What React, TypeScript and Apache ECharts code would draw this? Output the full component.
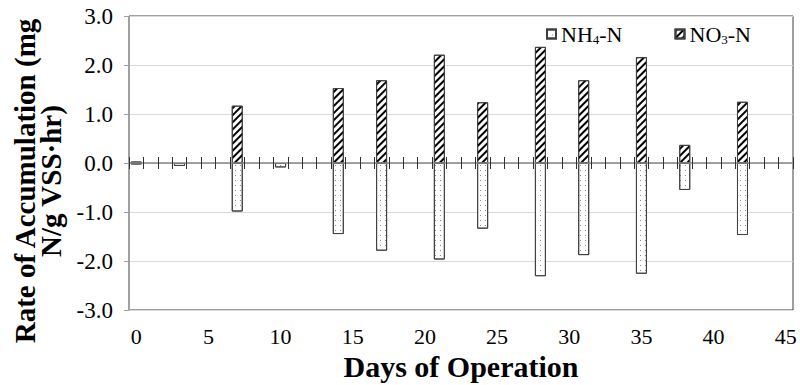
import React, { useEffect, useRef } from "react";
import * as echarts from "echarts";

const days = [0, 3, 7, 10, 14, 17, 21, 24, 28, 31, 35, 38, 42];
const nh4 = [-0.03, -0.06, -0.99, -0.09, -1.45, -1.79, -1.97, -1.34, -2.31, -1.88, -2.26, -0.55, -1.47];
const no3 = [0.03, null, 1.17, null, 1.53, 1.69, 2.21, 1.24, 2.37, 1.69, 2.16, 0.37, 1.25];
const categories = Array.from({ length: 46 }, (_, i) => String(i));
const yTicks = [-3, -2, -1, 0, 1, 2, 3];

const FONT = '"Liberation Serif", "Times New Roman", serif';

function toSeries(vals: (number | null)[]) {
  return categories.map((c) => {
    const idx = days.indexOf(Number(c));
    return idx >= 0 ? vals[idx] : null;
  });
}

export default function App() {
  const ref = useRef<HTMLDivElement>(null);
  useEffect(() => {
    if (!ref.current) return;
    const chart = echarts.init(ref.current, undefined, { renderer: "svg" });
    const common = {
      type: "bar" as const,
      barWidth: 11,
      barGap: "-100%",
      xAxisIndex: 0,
      yAxisIndex: 0,
    };
    const gridBase = { left: 129, right: 7, containLabel: false, outerBoundsMode: "none" };
    const tickAxis = (gridIndex: number, position: string, showLine: boolean) => ({
      type: "category",
      gridIndex,
      data: categories,
      position,
      axisLine: { onZero: false, show: showLine, lineStyle: { color: "#868686", width: 1.5 } },
      axisTick: { show: true, interval: 0, length: 6, lineStyle: { color: "#303030" } },
      axisLabel: { show: false },
      splitLine: { show: false },
      z: 3,
    });
    const hiddenY = (gridIndex: number) => ({
      type: "value",
      gridIndex,
      min: 0,
      max: 1,
      show: false,
      splitLine: { show: false },
    });
    chart.setOption({
      animation: false,
      backgroundColor: "#fff",
      textStyle: { fontFamily: FONT },
      grid: [
        {
          ...gridBase,
          top: 16,
          bottom: 75,
          show: true,
          borderColor: "#404040",
          borderWidth: 1,
          backgroundColor: "transparent",
        },
        { ...gridBase, top: 16, height: 147 },
        { ...gridBase, top: 163, height: 147 },
      ],
      legend: {
        left: 541,
        top: 18,
        itemWidth: 9,
        itemHeight: 9,
        itemGap: 52,
        icon: "rect",
        textStyle: {
          fontFamily: FONT,
          fontSize: 22,
          color: "#000",
          rich: {
            a: { fontFamily: FONT, fontSize: 22, color: "#000" },
            s: { fontFamily: FONT, fontSize: 13, color: "#000", verticalAlign: "bottom", padding: [10, 0, 0, 0] },
          },
        },
        formatter: (name: string) =>
          name === "NH4-N" ? "{a|NH}{s|4}{a|-N}" : "{a|NO}{s|3}{a|-N}",
        data: ["NH4-N", "NO3-N"],
      },
      xAxis: [
        {
          type: "category",
          gridIndex: 0,
          data: categories,
          position: "bottom",
          axisLine: { onZero: false, show: false },
          axisTick: { show: false },
          axisLabel: { interval: 4, margin: 15, fontSize: 22, color: "#000", fontFamily: FONT },
          splitLine: { show: false },
          name: "Days of Operation",
          nameLocation: "middle",
          nameGap: 37,
          nameTextStyle: { fontFamily: FONT, fontSize: 30, fontWeight: "bold", color: "#000" },
        },
        tickAxis(1, "bottom", true),
        tickAxis(2, "top", false),
      ],
      yAxis: [
        {
          type: "value",
          gridIndex: 0,
          min: yTicks[0],
          max: yTicks[yTicks.length - 1],
          interval: 1,
          axisLine: { show: true, lineStyle: { color: "#a0a0a0" } },
          axisTick: { show: true, length: 5, lineStyle: { color: "#a0a0a0" } },
          axisLabel: {
            formatter: (v: number) => v.toFixed(1),
            fontSize: 23,
            color: "#000",
            fontFamily: FONT,
            margin: 16,
          },
          splitLine: { show: true, lineStyle: { color: "#d9d9d9", width: 1 } },
          name: "Rate of Accumulation (mg\nN/g VSS·hr)",
          nameLocation: "middle",
          nameRotate: 90,
          nameGap: 58,
          nameTextStyle: {
            fontFamily: FONT,
            fontSize: 29,
            fontWeight: "bold",
            color: "#000",
            lineHeight: 26,
            padding: [0, 36, 0, 0],
          },
        },
        hiddenY(1),
        hiddenY(2),
      ],
      series: [
        {
          ...common,
          name: "NH4-N",
          data: toSeries(nh4),
          itemStyle: {
            color: "#fff",
            borderColor: "#404040",
            borderWidth: 1,
            decal: {
              symbol: "rect",
              symbolSize: 1,
              color: "#8c8c8c",
              backgroundColor: "#fff",
              dashArrayX: [1, 4],
              dashArrayY: [1, 4],
              rotation: 0,
            },
          },
        },
        {
          ...common,
          name: "NO3-N",
          data: toSeries(no3),
          itemStyle: {
            color: "#fff",
            borderColor: "#404040",
            borderWidth: 1,
            decal: {
              symbol: "rect",
              symbolSize: 1,
              color: "#000",
              backgroundColor: "#fff",
              dashArrayX: [1, 0],
              dashArrayY: [2, 2.5],
              rotation: -Math.PI / 4,
            },
          },
        },
      ],
    });
    return () => chart.dispose();
  }, []);
  return (
    <div
      ref={ref}
      style={{ width: 800, height: 385, position: "fixed", left: 0, top: 0 }}
    />
  );
}
